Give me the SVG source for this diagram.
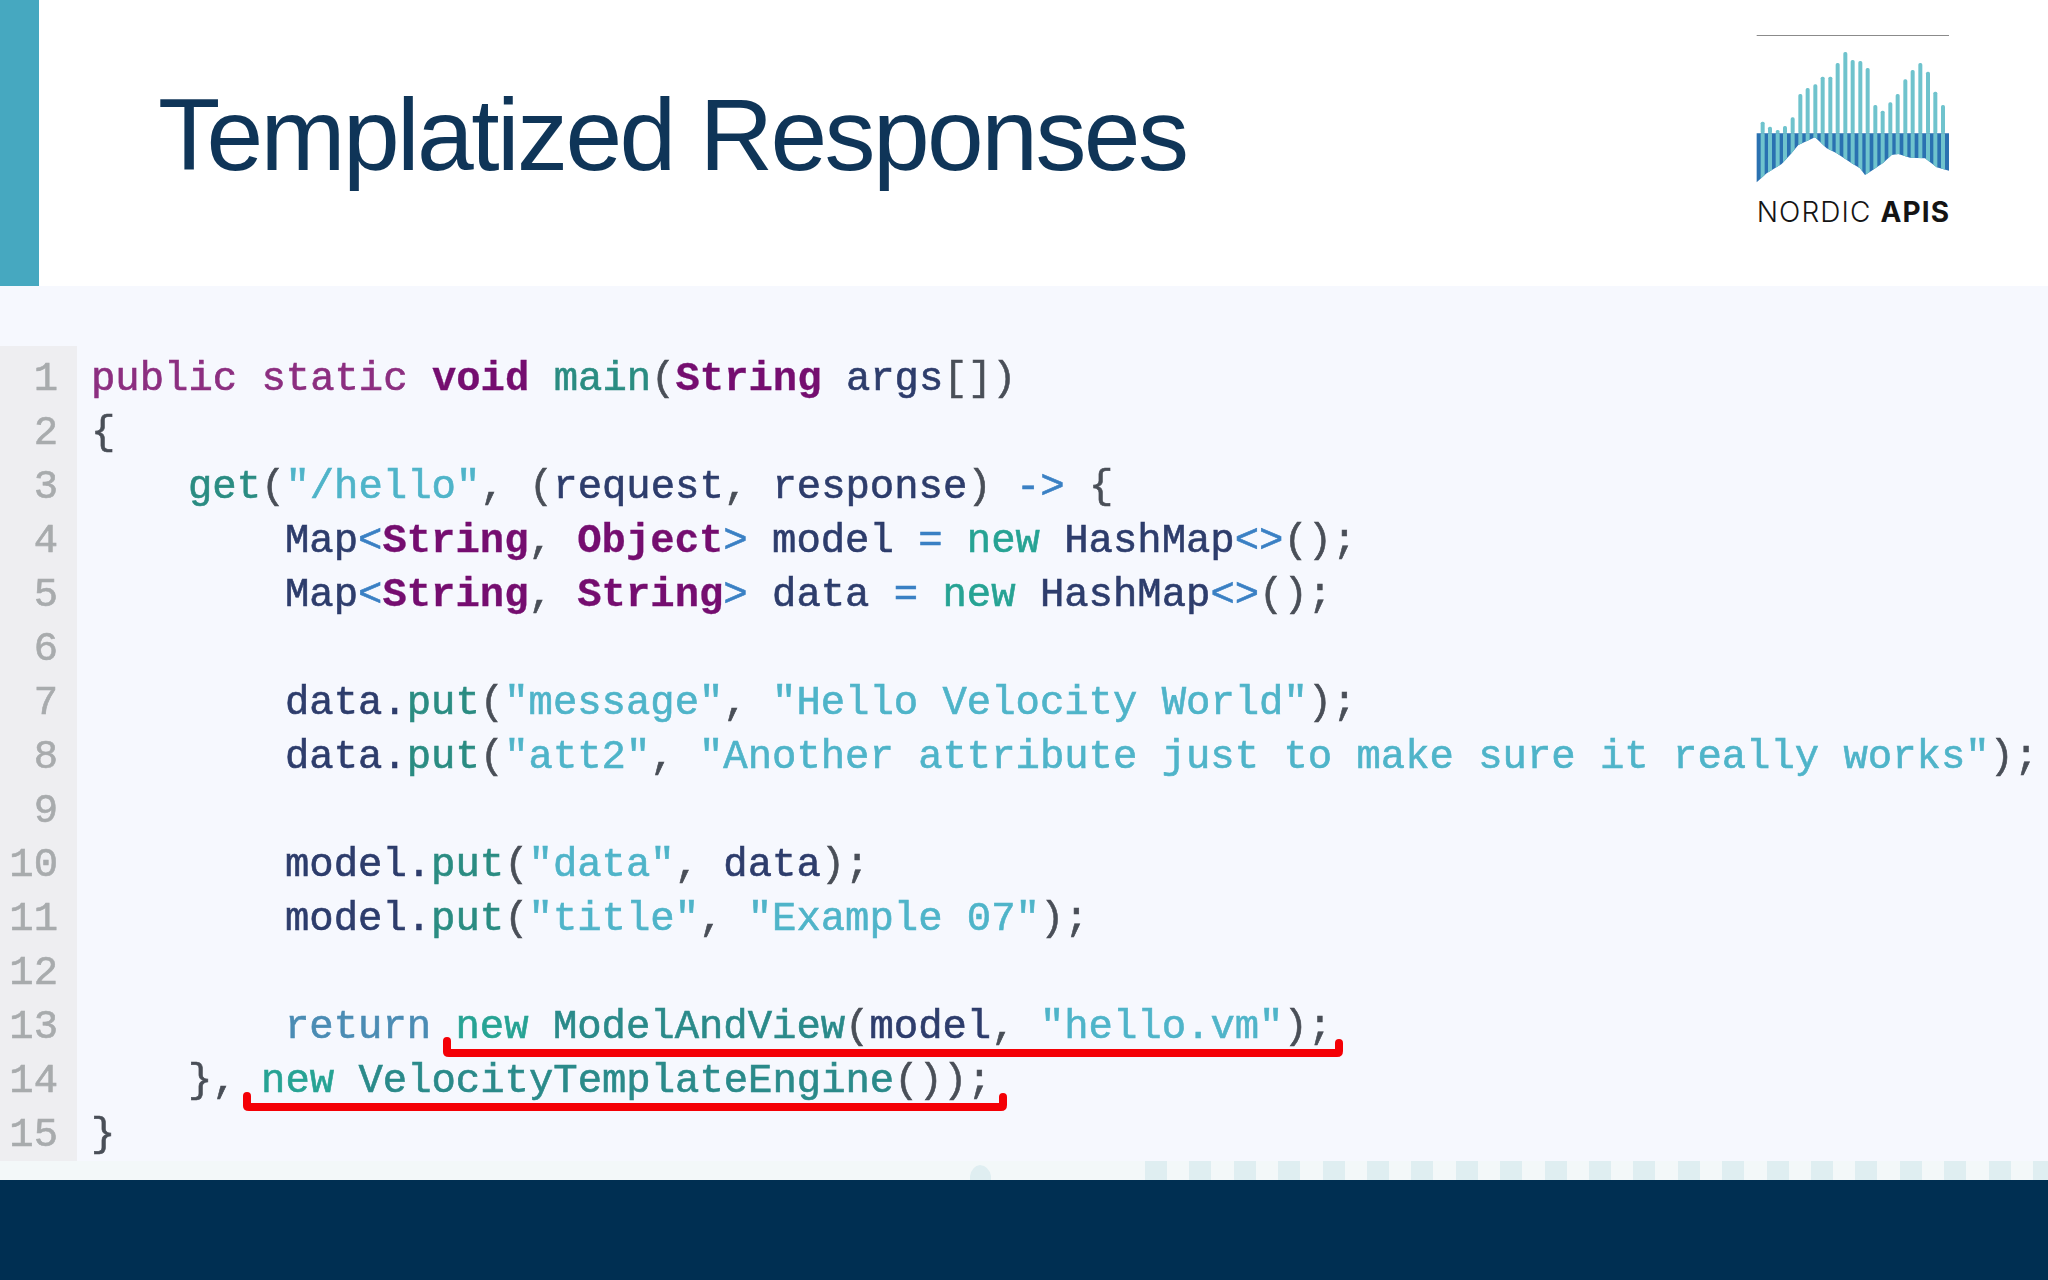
<svg xmlns="http://www.w3.org/2000/svg" width="2048" height="1280" viewBox="0 0 2048 1280">
<style>
.c{font-family:"Liberation Mono","DejaVu Sans Mono",monospace;font-size:40.6px;fill:#2d3c6c;stroke:#2d3c6c;stroke-width:.6}
.n{font-family:"Liberation Mono","DejaVu Sans Mono",monospace;font-size:40.6px;fill:#a8abad;stroke:#a8abad;stroke-width:.6;text-anchor:end}
.k{fill:#8c2f80;stroke:#8c2f80}.b{fill:#74106f;stroke:#74106f;stroke-width:.3;font-weight:bold}.m{fill:#2a8c82;stroke:#2a8c82}.p{fill:#4a4f58;stroke:#4a4f58}.s{fill:#4fb4c9;stroke:#4fb4c9}.o{fill:#3a80c4;stroke:#3a80c4}.w{fill:#27a394;stroke:#27a394}.r{fill:#4b8cb4;stroke:#4b8cb4}.t{fill:#2a8a8a;stroke:#2a8a8a}
.u{fill:none;stroke:#f40006;stroke-width:8;stroke-linejoin:round;stroke-linecap:round}
.bar{fill:#6fc3cd}
</style>
<defs>
<filter id="soft" x="-2%" y="-2%" width="104%" height="104%"><feGaussianBlur stdDeviation="0.7"/></filter>
<clipPath id="under"><path d="M110 340H687V452L650 442 615 415 570 413 535 402 515 405 490 428 455 452 435 465 420 445 395 430 350 400 320 385 285 352 235 375 210 405 185 432 140 460 110 487Z"/></clipPath>
</defs>
<rect width="2048" height="1280" fill="#f6f8fe"/>
<rect width="2048" height="286" fill="#fff"/>
<rect width="39" height="286" fill="#46a8c0"/>
<text id="title" x="158" y="170" font-family="'Liberation Sans',Arial,sans-serif" font-size="102" letter-spacing="-2.6" fill="#0f3558">Templatized Responses</text>

<g id="logo" transform="translate(1720 20) scale(.33333)">
<rect x="110" y="45" width="577" height="3" fill="#8b8b8b"/>
<path d="M110 340H687V452L650 442 615 415 570 413 535 402 515 405 490 428 455 452 435 465 420 445 395 430 350 400 320 385 285 352 235 375 210 405 185 432 140 460 110 487Z" fill="#2a71b1"/>
<g clip-path="url(#under)" class="bar">
<rect x="122" y="340" width="12" height="160"/><rect x="144" y="340" width="12" height="160"/><rect x="167" y="340" width="12" height="160"/><rect x="189" y="340" width="12" height="160"/><rect x="212" y="340" width="12" height="160"/><rect x="235" y="340" width="12" height="160"/><rect x="257" y="340" width="12" height="160"/><rect x="280" y="340" width="12" height="160"/><rect x="302" y="340" width="12" height="160"/><rect x="325" y="340" width="12" height="160"/><rect x="347" y="340" width="12" height="160"/><rect x="370" y="340" width="12" height="160"/><rect x="392" y="340" width="12" height="160"/><rect x="415" y="340" width="12" height="160"/><rect x="437" y="340" width="12" height="160"/><rect x="460" y="340" width="12" height="160"/><rect x="482" y="340" width="12" height="160"/><rect x="505" y="340" width="12" height="160"/><rect x="527" y="340" width="12" height="160"/><rect x="550" y="340" width="12" height="160"/><rect x="572" y="340" width="12" height="160"/><rect x="595" y="340" width="12" height="160"/><rect x="618" y="340" width="12" height="160"/><rect x="640" y="340" width="12" height="160"/><rect x="663" y="340" width="12" height="160"/>
</g>
<g class="bar">
<rect x="122" y="305" width="12" height="36" rx="5"/><rect x="144" y="320" width="12" height="21" rx="5"/><rect x="167" y="330" width="12" height="11" rx="5"/><rect x="189" y="318" width="12" height="23" rx="5"/><rect x="212" y="292" width="12" height="49" rx="5"/><rect x="235" y="222" width="12" height="119" rx="5"/><rect x="257" y="204" width="12" height="137" rx="5"/><rect x="280" y="193" width="12" height="148" rx="5"/><rect x="302" y="170" width="12" height="171" rx="5"/><rect x="325" y="170" width="12" height="171" rx="5"/><rect x="347" y="129" width="12" height="212" rx="5"/><rect x="370" y="96" width="12" height="245" rx="5"/><rect x="392" y="120" width="12" height="221" rx="5"/><rect x="415" y="123" width="12" height="218" rx="5"/><rect x="437" y="144" width="12" height="197" rx="5"/><rect x="460" y="255" width="12" height="86" rx="5"/><rect x="482" y="272" width="12" height="69" rx="5"/><rect x="505" y="247" width="12" height="94" rx="5"/><rect x="527" y="222" width="12" height="119" rx="5"/><rect x="550" y="178" width="12" height="163" rx="5"/><rect x="572" y="150" width="12" height="191" rx="5"/><rect x="595" y="129" width="12" height="212" rx="5"/><rect x="618" y="155" width="12" height="186" rx="5"/><rect x="640" y="215" width="12" height="126" rx="5"/><rect x="663" y="255" width="12" height="86" rx="5"/>
</g>
<text x="110" y="605" font-family="Inter,'Liberation Sans',sans-serif" font-size="84" letter-spacing="3.4" fill="#141414"><tspan font-weight="300">NORDIC </tspan><tspan font-weight="700">APIS</tspan></text>
</g>

<rect id="gutter" y="346" width="77" height="816" fill="#eeeef1"/>
<g id="linenumbers" filter="url(#soft)">
<text class="n" x="58" y="390">1</text><text class="n" x="58" y="444">2</text><text class="n" x="58" y="498">3</text><text class="n" x="58" y="552">4</text><text class="n" x="58" y="606">5</text><text class="n" x="58" y="660">6</text><text class="n" x="58" y="714">7</text><text class="n" x="58" y="768">8</text><text class="n" x="58" y="822">9</text><text class="n" x="58" y="876">10</text><text class="n" x="58" y="930">11</text><text class="n" x="58" y="984">12</text><text class="n" x="58" y="1038">13</text><text class="n" x="58" y="1092">14</text><text class="n" x="58" y="1146">15</text>
</g>
<g id="code" filter="url(#soft)">
<text class="c" x="91" y="390"><tspan class="k">public static </tspan><tspan class="b">void </tspan><tspan class="m">main</tspan><tspan class="p">(</tspan><tspan class="b">String </tspan>args<tspan class="p">[])</tspan></text>
<text class="c p" x="91" y="444">{</text>
<text class="c" x="188" y="498"><tspan class="m">get</tspan><tspan class="p">(</tspan><tspan class="s">"/hello"</tspan><tspan class="p">, (</tspan>request<tspan class="p">, </tspan>response<tspan class="p">) </tspan><tspan class="o">-&gt; </tspan><tspan class="p">{</tspan></text>
<text class="c" x="285" y="552">Map<tspan class="o">&lt;</tspan><tspan class="b">String</tspan><tspan class="p">, </tspan><tspan class="b">Object</tspan><tspan class="o">&gt; </tspan>model <tspan class="o">= </tspan><tspan class="w">new </tspan>HashMap<tspan class="o">&lt;&gt;</tspan><tspan class="p">();</tspan></text>
<text class="c" x="285" y="606">Map<tspan class="o">&lt;</tspan><tspan class="b">String</tspan><tspan class="p">, </tspan><tspan class="b">String</tspan><tspan class="o">&gt; </tspan>data <tspan class="o">= </tspan><tspan class="w">new </tspan>HashMap<tspan class="o">&lt;&gt;</tspan><tspan class="p">();</tspan></text>
<text class="c" x="285" y="714">data.<tspan class="m">put</tspan><tspan class="p">(</tspan><tspan class="s">"message"</tspan><tspan class="p">, </tspan><tspan class="s">"Hello Velocity World"</tspan><tspan class="p">);</tspan></text>
<text class="c" x="285" y="768">data.<tspan class="m">put</tspan><tspan class="p">(</tspan><tspan class="s">"att2"</tspan><tspan class="p">, </tspan><tspan class="s">"Another attribute just to make sure it really works"</tspan><tspan class="p">);</tspan></text>
<text class="c" x="285" y="876">model.<tspan class="m">put</tspan><tspan class="p">(</tspan><tspan class="s">"data"</tspan><tspan class="p">, </tspan>data<tspan class="p">);</tspan></text>
<text class="c" x="285" y="930">model.<tspan class="m">put</tspan><tspan class="p">(</tspan><tspan class="s">"title"</tspan><tspan class="p">, </tspan><tspan class="s">"Example 07"</tspan><tspan class="p">);</tspan></text>
<text class="c" x="285" y="1038"><tspan class="r">return </tspan><tspan class="w">new </tspan><tspan class="t">ModelAndView</tspan><tspan class="p">(</tspan>model<tspan class="p">, </tspan><tspan class="s">"hello.vm"</tspan><tspan class="p">);</tspan></text>
<text class="c" x="188" y="1092"><tspan class="p">}, </tspan><tspan class="w">new </tspan><tspan class="t">VelocityTemplateEngine</tspan><tspan class="p">());</tspan></text>
<text class="c p" x="91" y="1146">}</text>
</g>
<g id="underlines">
<path class="u" d="M447 1041V1052Q447 1053 449 1053H1337Q1339 1053 1339 1051V1043"/>
<path class="u" d="M247 1096V1106Q247 1107 249 1107H1001Q1003 1107 1003 1105V1097"/>
</g>
<g id="footer">
<rect y="1161" width="2048" height="19" fill="#f3f8f9"/>
<g fill="#dfeef1"><path d="M970 1180V1176Q972 1166 980 1165 989 1166 991 1176V1180Z"/><rect x="1145" y="1161" width="22" height="19"/><rect x="1189" y="1161" width="22" height="19"/><rect x="1234" y="1161" width="22" height="19"/><rect x="1278" y="1161" width="22" height="19"/><rect x="1323" y="1161" width="22" height="19"/><rect x="1367" y="1161" width="22" height="19"/><rect x="1411" y="1161" width="22" height="19"/><rect x="1456" y="1161" width="22" height="19"/><rect x="1500" y="1161" width="22" height="19"/><rect x="1545" y="1161" width="22" height="19"/><rect x="1589" y="1161" width="22" height="19"/><rect x="1633" y="1161" width="22" height="19"/><rect x="1678" y="1161" width="22" height="19"/><rect x="1722" y="1161" width="22" height="19"/><rect x="1767" y="1161" width="22" height="19"/><rect x="1811" y="1161" width="22" height="19"/><rect x="1855" y="1161" width="22" height="19"/><rect x="1900" y="1161" width="22" height="19"/><rect x="1944" y="1161" width="22" height="19"/><rect x="1989" y="1161" width="22" height="19"/><rect x="2033" y="1161" width="15" height="19"/></g>
<rect y="1180" width="2048" height="100" fill="#002f52"/>
</g>
</svg>
